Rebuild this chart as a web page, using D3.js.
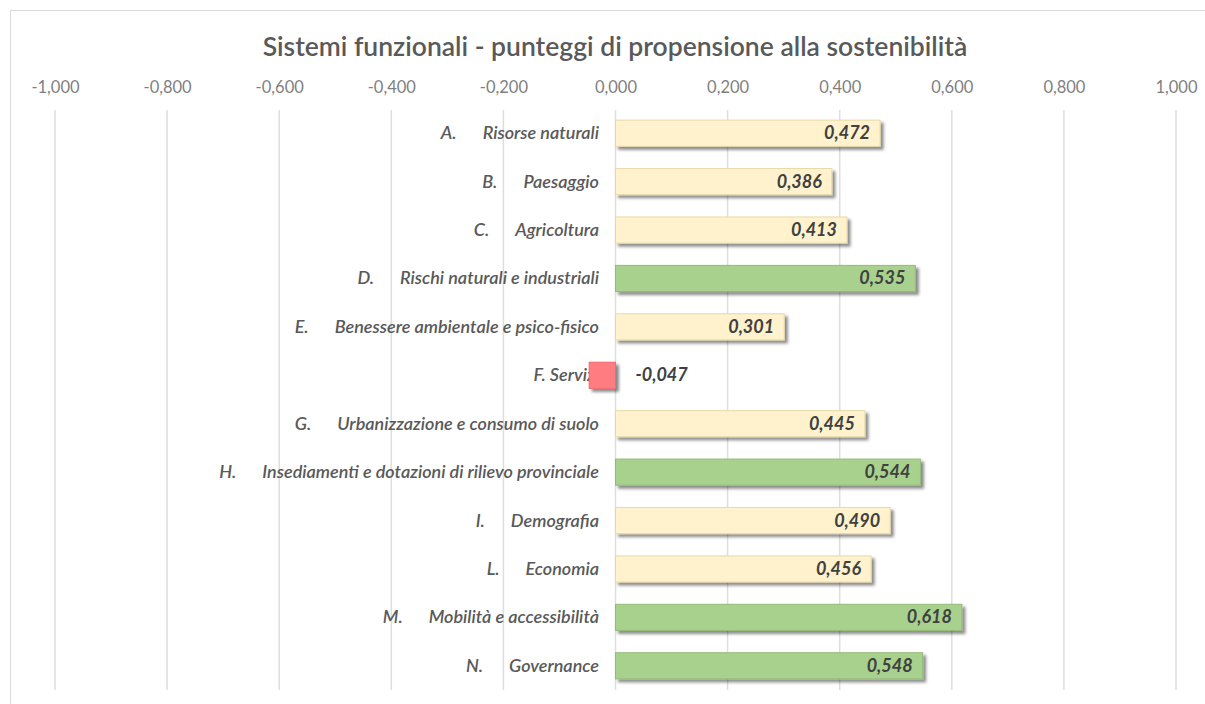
<!DOCTYPE html>
<html>
<head>
<meta charset="utf-8">
<script src="https://cdn.jsdelivr.net/npm/d3@7"></script>
<style>
  html, body { margin: 0; padding: 0; background: #fff; }
  svg { display: block; font-family: Lato, "Open Sans", sans-serif; }
</style>
</head>
<body>
<svg id="chart" width="1205" height="704"></svg>
<script>
// Functional systems and their sustainability propensity scores
const letters = ["A.", "B.", "C.", "D.", "E.", "F.", "G.", "H.", "I.", "L.", "M.", "N."];
const names = [
  "Risorse naturali",
  "Paesaggio",
  "Agricoltura",
  "Rischi naturali e industriali",
  "Benessere ambientale e psico-fisico",
  "Servizi",
  "Urbanizzazione e consumo di suolo",
  "Insediamenti e dotazioni di rilievo provinciale",
  "Demografia",
  "Economia",
  "Mobilità e accessibilità",
  "Governance"
];
const scores = [0.472, 0.386, 0.413, 0.535, 0.301, -0.047, 0.445, 0.544, 0.490, 0.456, 0.618, 0.548];
const tickValues = [-1, -0.8, -0.6, -0.4, -0.2, 0, 0.2, 0.4, 0.6, 0.8, 1];
const titleText = "Sistemi funzionali - punteggi di propensione alla sostenibilità";

const rows = letters.map((l, i) => ({ key: l, name: names[i], value: scores[i] }));

const svg = d3.select("#chart");
const fmt = v => d3.format(".3f")(v).replace(".", ",").replace("−", "-");

// Outer chart frame
svg.append("rect")
  .attr("x", 10.5).attr("y", 10.5)
  .attr("width", 1205).attr("height", 720)
  .attr("fill", "#fff").attr("stroke", "#d9d9d9").attr("stroke-width", 1);

const x = d3.scaleLinear().domain([-1, 1]).range([55, 1176]);
const y = d3.scaleBand().domain(letters).range([109, 690]).paddingInner(0.46).paddingOuter(0.23);

// Drop shadow for bars
const defs = svg.append("defs");
const f = defs.append("filter").attr("id", "shadow")
  .attr("x", "-10%").attr("y", "-30%").attr("width", "130%").attr("height", "170%");
f.append("feDropShadow").attr("dx", 3).attr("dy", 3).attr("stdDeviation", 1.4)
  .attr("flood-color", "#000").attr("flood-opacity", 0.45);

// Title
svg.append("text")
  .attr("x", 615).attr("y", 56)
  .attr("text-anchor", "middle")
  .attr("font-size", 26.5).attr("font-weight", 600)
  .attr("fill", "#595959")
  .text(titleText);

// Vertical gridlines and top axis labels
const axis = d3.axisTop(x).tickValues(tickValues).tickSize(0).tickFormat(fmt);
const axisG = svg.append("g").attr("transform", "translate(0,96)").call(axis);
axisG.select(".domain").remove();
axisG.selectAll("text")
  .attr("font-family", "Lato, 'Open Sans', sans-serif")
  .attr("font-size", 16.5).attr("fill", "#7f7f7f");

svg.append("g").selectAll("line")
  .data(tickValues)
  .join("line")
  .attr("x1", d => x(d)).attr("x2", d => x(d))
  .attr("y1", 110).attr("y2", 690)
  .attr("stroke", "#dedede").attr("stroke-width", 1.5);

// Category labels: letter + name, right-aligned before the zero line
const labelG = svg.append("g")
  .attr("font-style", "italic").attr("font-weight", 600)
  .attr("font-size", 18).attr("fill", "#595959");

rows.forEach(d => {
  const cy = y(d.key) + y.bandwidth() / 2 + 6;
  if (d.value < 0) {
    labelG.append("text").attr("x", 599).attr("y", cy)
      .attr("text-anchor", "end").text(d.key + " " + d.name);
  } else {
    const t = labelG.append("text").attr("x", 599).attr("y", cy)
      .attr("text-anchor", "end").text(d.name);
    const w = t.node().getComputedTextLength();
    labelG.append("text").attr("x", 599 - w - 26).attr("y", cy)
      .attr("text-anchor", "end").text(d.key);
  }
});

// Bars
const fillFor = v => v < 0 ? "#ff7c80" : (v >= 0.5 ? "#a9d18e" : "#fff2cc");
const strokeFor = v => v < 0 ? "#f06a6e" : (v >= 0.5 ? "#93bb78" : "#e8d8a8");

svg.append("g").selectAll("rect")
  .data(rows)
  .join("rect")
  .attr("x", d => x(Math.min(0, d.value)))
  .attr("y", d => y(d.key))
  .attr("width", d => Math.abs(x(d.value) - x(0)))
  .attr("height", y.bandwidth())
  .attr("fill", d => fillFor(d.value))
  .attr("stroke", d => strokeFor(d.value))
  .attr("stroke-width", 1)
  .attr("filter", "url(#shadow)");

// Value labels
svg.append("g").selectAll("text")
  .data(rows)
  .join("text")
  .attr("x", d => d.value < 0 ? x(0) + 20 : x(d.value) - 10)
  .attr("y", d => y(d.key) + y.bandwidth() / 2 + 6)
  .attr("text-anchor", d => d.value < 0 ? "start" : "end")
  .attr("font-style", "italic").attr("font-weight", 700)
  .attr("font-size", 18).attr("fill", "#404040")
  .text(d => fmt(d.value));
</script>
</body>
</html>
